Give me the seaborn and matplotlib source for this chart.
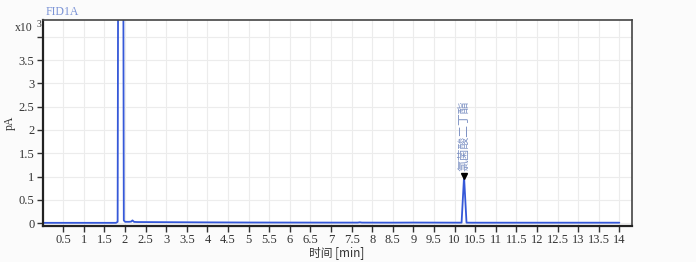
import matplotlib
matplotlib.use("Agg")
import matplotlib.pyplot as plt
import seaborn as sns
import pandas as pd

# ---- data ----
time_min = [0.00, 1.00, 1.78, 1.82, 1.84, 1.90, 1.95, 1.97, 2.00, 2.10, 2.15,
            2.18, 2.22, 2.30, 3.00, 4.00, 5.00, 6.00, 7.00, 7.65, 7.70, 7.75,
            8.50, 9.00, 10.00, 10.17, 10.23, 10.29, 10.40, 11.00, 12.00, 13.00, 14.00]
signal_pa = [8, 8, 8, 30, 9000, 12000, 9000, 60, 30, 30, 35,
             60, 28, 25, 22, 18, 15, 14, 13, 13, 20, 13,
             12, 14, 12, 12, 1000, 12, 11, 11, 11, 11, 11]
peak_time = [10.23]
peak_height = [1000]
peak_name = ["氯菌酸二丁酯"]
x_ticks = [0.5 * i for i in range(1, 29)]
y_ticks = [0, 500, 1000, 1500, 2000, 2500, 3000, 3500, 4000]
y_tick_labels = ["0", "0.5", "1", "1.5", "2", "2.5", "3", "3.5", ""]

df = pd.DataFrame({"time": time_min, "signal": signal_pa})

sns.set_style("whitegrid")
plt.rcParams["font.family"] = ["Liberation Serif", "Noto Sans CJK SC", "DejaVu Sans"]

fig = plt.figure(figsize=(6.96, 2.62), dpi=100)
fig.patch.set_facecolor("#fbfbfb")
ax = fig.add_axes([0.0613, 0.1374, 0.8463, 0.7863])
ax.set_facecolor("white")

sns.lineplot(data=df, x="time", y="signal", ax=ax, color="#3558d8",
             linewidth=1.3, estimator=None, sort=False)

ax.set_xlim(0, 14.3)
ax.set_ylim(-60, 4360)
ax.set_xticks(x_ticks)
ax.set_xticklabels([f"{t:g}" for t in x_ticks], fontsize=9, color="#333333")
ax.set_yticks(y_ticks)
ax.set_yticklabels(y_tick_labels, fontsize=9, color="#333333")
ax.tick_params(axis="both", length=4, width=1, color="#333333", pad=2,
               bottom=True, left=True, direction="out")
ax.grid(True, color="#ececec", linewidth=0.8)
for side in ["left", "bottom"]:
    ax.spines[side].set_color("#222222")
    ax.spines[side].set_linewidth(1.6)
for side in ["top", "right"]:
    ax.spines[side].set_color("#444444")
    ax.spines[side].set_linewidth(1.2)

ax.set_xlabel("时间 [min]", fontsize=8.5, color="#333333",
              family=["Noto Sans CJK SC", "DejaVu Sans"], labelpad=0)
ax.set_ylabel("pA", fontsize=8.5, color="#333333", labelpad=2)

# peak marker and label
for t, h, name in zip(peak_time, peak_height, peak_name):
    ax.plot([t], [h + 20], marker="v", color="black", markersize=5, linestyle="none")
    ax.text(t, h + 120, name, rotation=90, ha="center", va="bottom",
            fontsize=8.5, color="#7f93c4",
            family=["Noto Sans CJK SC", "DejaVu Sans"])

fig.text(0.066, 0.955, "FID1A", fontsize=8.5, color="#7b93d6", ha="left", va="center")
fig.text(0.021, 0.893, "x10", fontsize=8.5, color="#333333", ha="left", va="center")
fig.text(0.052, 0.907, "3", fontsize=7, color="#333333", ha="left", va="center")

fig.savefig("out.png", dpi=100, facecolor=fig.get_facecolor())
